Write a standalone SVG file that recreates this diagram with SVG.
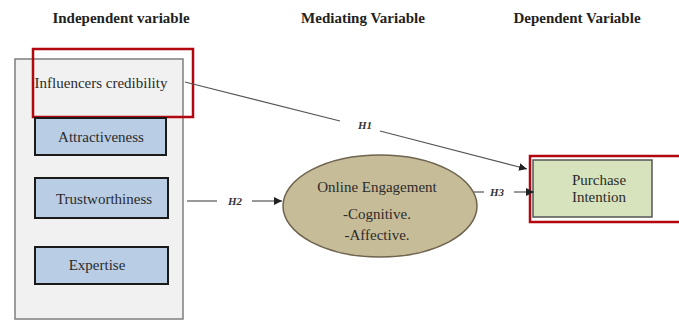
<svg xmlns="http://www.w3.org/2000/svg" width="679" height="320" viewBox="0 0 679 320">
<style>
.hdr{font-family:"Liberation Serif",serif;font-weight:bold;font-size:15px;fill:#222;text-anchor:middle}
.lbl{font-family:"Liberation Serif",serif;font-size:15px;fill:#2b2b2b;text-anchor:middle}
.h{font-family:"Liberation Serif",serif;font-style:italic;font-weight:bold;font-size:11px;fill:#333;text-anchor:middle}
.blue{fill:#b9cde5;stroke:#1a1a1a;stroke-width:2}
.red{fill:none;stroke:#b3070f;stroke-width:2.5}
.ln{stroke:#555;stroke-width:1.2;fill:none}
</style>
<defs>
<marker id="arr" viewBox="0 0 10 10" refX="10" refY="5" markerWidth="8" markerHeight="8" markerUnits="userSpaceOnUse" orient="auto">
<path d="M0,0 L10,5 L0,10 z" fill="#222"/>
</marker>
</defs>
<rect width="679" height="320" fill="#fff"/>
<g id="headers">
<text class="hdr" x="121" y="23">Independent variable</text>
<text class="hdr" x="363" y="23">Mediating Variable</text>
<text class="hdr" x="577" y="23">Dependent Variable</text>
</g>
<g id="independent">
<rect x="15" y="59" width="168" height="260" fill="#f1f1f1" stroke="#7f7f7f" stroke-width="1.5"/>
<text class="lbl" x="101" y="88">Influencers credibility</text>
<rect class="red" x="33" y="49" width="160" height="68"/>
</g>
<g id="attractiveness">
<rect class="blue" x="35" y="118" width="131" height="37"/>
<text class="lbl" x="101" y="142">Attractiveness</text>
</g>
<g id="trustworthiness">
<rect class="blue" x="35" y="178" width="133" height="40"/>
<text class="lbl" x="104" y="204">Trustworthiness</text>
</g>
<g id="expertise">
<rect class="blue" x="35" y="247" width="133" height="37"/>
<text class="lbl" x="97" y="270">Expertise</text>
</g>
<g id="engagement">
<ellipse cx="380" cy="206" rx="97" ry="51" fill="#c7bc98" stroke="#6e6450" stroke-width="1.5"/>
<text class="lbl" x="377" y="192">Online Engagement</text>
<text class="lbl" x="377" y="219">-Cognitive.</text>
<text class="lbl" x="377" y="240">-Affective.</text>
</g>
<g id="purchase">
<rect x="533" y="160" width="119" height="57" fill="#d6e3bc" stroke="#555" stroke-width="1.5"/>
<text class="lbl" x="599" y="185">Purchase</text>
<text class="lbl" x="599" y="202">Intention</text>
<rect class="red" x="530" y="156" width="152" height="66"/>
</g>
<g id="connectors">
<path class="ln" d="M185,82 L340,121"/>
<path class="ln" d="M380,131 L527,169" marker-end="url(#arr)"/>
<text class="h" x="365" y="129">H1</text>
<path class="ln" d="M187,201 L217,201"/>
<text class="h" x="235" y="205">H2</text>
<path class="ln" d="M252,201 L282,201" marker-end="url(#arr)"/>
<path class="ln" d="M474,192 L484,192"/>
<text class="h" x="497" y="196">H3</text>
<path class="ln" d="M514,192 L534,192" marker-end="url(#arr)"/>
</g>
</svg>
